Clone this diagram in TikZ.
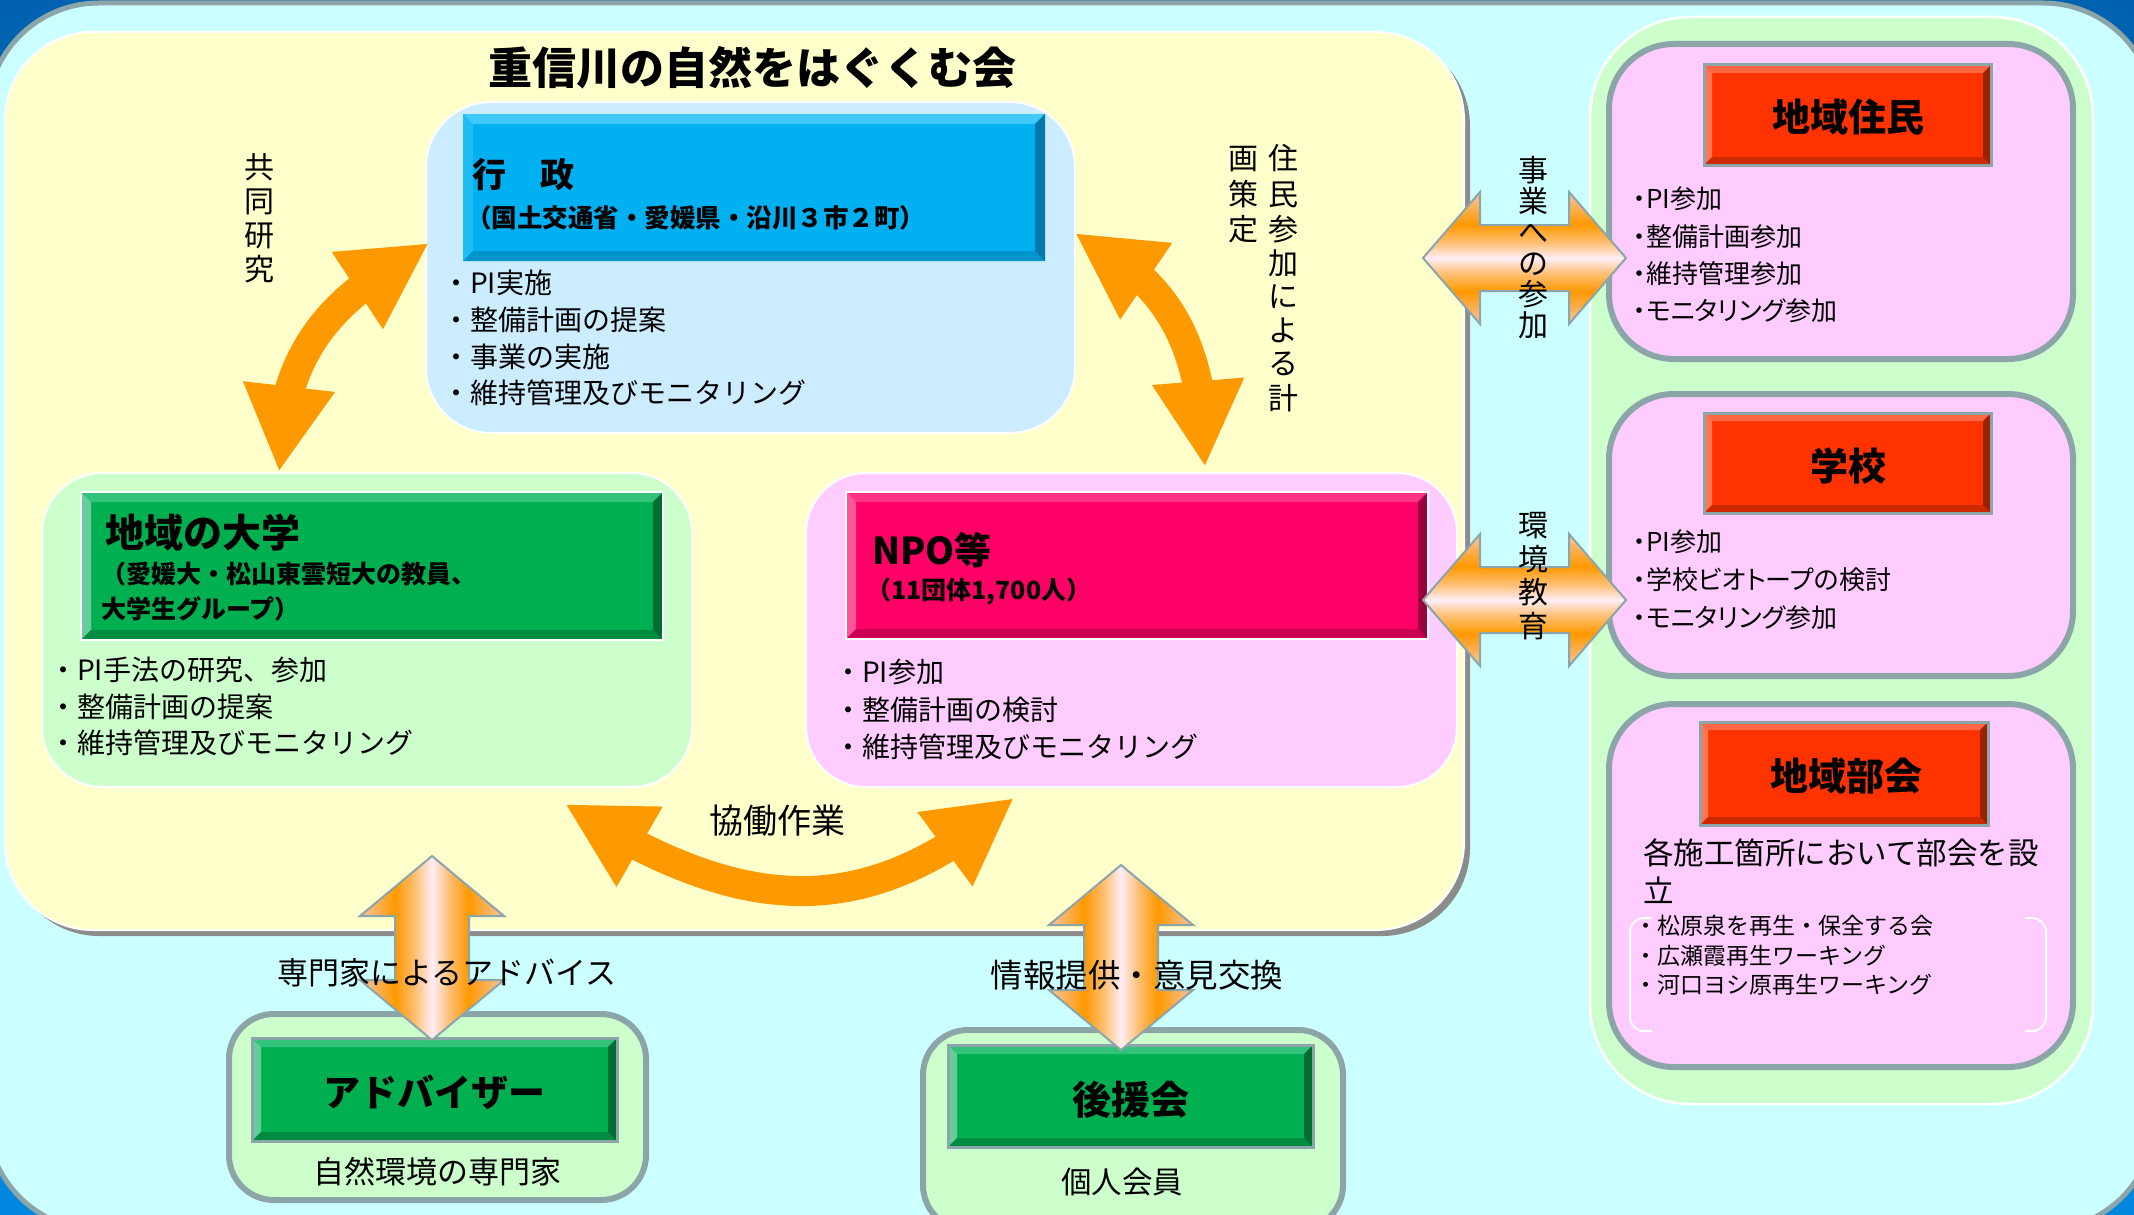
\documentclass[tikz,border=0pt]{standalone}
\usepackage{fontspec}
\setmainfont{Noto Sans CJK JP}
\newfontfamily\jpp{Noto Sans CJK JP}[RawFeature=+palt]
\usetikzlibrary{arrows.meta,bending}
\definecolor{bgblueA}{HTML}{0062B0}
\definecolor{bgblueB}{HTML}{0088E0}
\definecolor{cyanbg}{HTML}{CCFFFF}
\definecolor{framegray}{HTML}{8CA5A8}
\definecolor{yellowbg}{HTML}{FFFFCC}
\definecolor{shadowgray}{HTML}{8C8C8C}
\definecolor{lightblue}{HTML}{CCECFF}
\definecolor{lightgreen}{HTML}{CCFFCC}
\definecolor{lightpink}{HTML}{FFCCFF}
\definecolor{orangec}{HTML}{FF9900}
\definecolor{peachc}{HTML}{F6C6AA}
\definecolor{orangel}{HTML}{FFBE70}
\definecolor{centc}{HTML}{FFEEF6}
\definecolor{gvmain}{HTML}{00B0F0}\definecolor{gvtop}{HTML}{40C8F8}\definecolor{gvleft}{HTML}{20BCF4}\definecolor{gvbot}{HTML}{0094CC}\definecolor{gvright}{HTML}{0078AA}
\definecolor{grmain}{HTML}{00B050}\definecolor{grtop}{HTML}{33C27A}\definecolor{grleft}{HTML}{66CC99}\definecolor{grbot}{HTML}{008C40}\definecolor{grright}{HTML}{006E32}
\definecolor{mgmain}{HTML}{FF0066}\definecolor{mgtop}{HTML}{FF3385}\definecolor{mgleft}{HTML}{FF5599}\definecolor{mgbot}{HTML}{CC0052}\definecolor{mgright}{HTML}{99003D}
\definecolor{rdmain}{HTML}{FF3300}\definecolor{rdtop}{HTML}{FF6644}\definecolor{rdleft}{HTML}{FF7755}\definecolor{rdbot}{HTML}{CC2900}\definecolor{rdright}{HTML}{992200}
\pgfdeclareverticalshading{dblarr}{100bp}{color(0bp)=(peachc); color(25bp)=(peachc); color(37.5bp)=(orangec); color(44bp)=(orangel); color(50bp)=(centc); color(56bp)=(orangel); color(62.5bp)=(orangec); color(75bp)=(peachc); color(100bp)=(peachc)}
\newcommand\bevbox[7]{%
  \fill[#6main] (#1,#2) rectangle (#3,#4);
  \fill[#6top] (#1,#2) -- (#3,#2) -- ({#3-#5},{#2+#5}) -- ({#1+#5},{#2+#5}) -- cycle;
  \fill[#6left] (#1,#2) -- ({#1+#5},{#2+#5}) -- ({#1+#5},{#4-#5}) -- (#1,#4) -- cycle;
  \fill[#6bot] (#1,#4) -- ({#1+#5},{#4-#5}) -- ({#3-#5},{#4-#5}) -- (#3,#4) -- cycle;
  \fill[#6right] (#3,#2) -- (#3,#4) -- ({#3-#5},{#4-#5}) -- ({#3-#5},{#2+#5}) -- cycle;
  \draw[#7] (#1,#2) rectangle (#3,#4);
}
\newcommand\hdarr[2]{%
  \begin{scope}
    \clip ({#1-101.5},#2) -- ({#1-44.5},{#2-66}) -- ({#1-44.5},{#2-33}) -- ({#1+44.5},{#2-33}) -- ({#1+44.5},{#2-66}) -- ({#1+101.5},#2) -- ({#1+44.5},{#2+66}) -- ({#1+44.5},{#2+33}) -- ({#1-44.5},{#2+33}) -- ({#1-44.5},{#2+66}) -- cycle;
    \shade[shading=dblarr] ({#1-102},{#2-67}) rectangle ({#1+102},{#2+67});
  \end{scope}
  \draw[framegray,line width=2] ({#1-101.5},#2) -- ({#1-44.5},{#2-66}) -- ({#1-44.5},{#2-33}) -- ({#1+44.5},{#2-33}) -- ({#1+44.5},{#2-66}) -- ({#1+101.5},#2) -- ({#1+44.5},{#2+66}) -- ({#1+44.5},{#2+33}) -- ({#1-44.5},{#2+33}) -- ({#1-44.5},{#2+66}) -- cycle;
}
\newcommand\vdarr[3]{%
  \begin{scope}
    \clip (#1,#2) -- ({#1+72},{#2+60}) -- ({#1+37},{#2+60}) -- ({#1+37},{#3-60}) -- ({#1+72},{#3-60}) -- (#1,#3) -- ({#1-72},{#3-60}) -- ({#1-37},{#3-60}) -- ({#1-37},{#2+60}) -- ({#1-72},{#2+60}) -- cycle;
    \shade[shading=dblarr,shading angle=90] ({#1-73},#2) rectangle ({#1+73},#3);
  \end{scope}
  \draw[framegray,line width=2] (#1,#2) -- ({#1+72},{#2+60}) -- ({#1+37},{#2+60}) -- ({#1+37},{#3-60}) -- ({#1+72},{#3-60}) -- (#1,#3) -- ({#1-72},{#3-60}) -- ({#1-37},{#3-60}) -- ({#1-37},{#2+60}) -- ({#1-72},{#2+60}) -- cycle;
}
\tikzset{
  curvarr/.style={draw=orangec,line width=30pt,{Triangle[length=86pt,width=86pt]}-{Triangle[length=86pt,width=86pt]}},
  bul/.style={anchor=west,inner sep=0pt,font=\fontsize{#1}{#1}\selectfont},
  pbul/.style={anchor=west,inner sep=0pt,font=\jpp\fontsize{#1}{#1}\selectfont},
  hdr/.style={inner sep=0pt,font=\bfseries\fontsize{#1}{#1}\selectfont},
  plain/.style={inner sep=0pt,font=\fontsize{#1}{#1}\selectfont},
  vtext/.style 2 args={inner sep=0pt,align=center,font=\fontsize{#1}{#2}\selectfont},
  region/.style={draw=white,line width=2,fill=#1},
  graybox/.style={draw=framegray,line width=6,fill=#1}
}
\begin{document}
\begin{tikzpicture}[x=1pt,y=-1pt]
\useasboundingbox (0,0) rectangle (2134,1215);
\shade[top color=bgblueA,bottom color=bgblueB] (0,0) rectangle (2134,1215);
\draw[framegray,line width=5,fill=cyanbg,rounded corners=112] (-13,3) rectangle (2155,1230);
% main yellow area
\fill[shadowgray,rounded corners=88] (11,38) rectangle (1470,936);
\draw[region=yellowbg,rounded corners=88] (5,32) rectangle (1464,930);
\node[hdr=44] (title) at (752,68) {重信川の自然をはぐくむ会};
% gyosei
\draw[region=lightblue,rounded corners=65] (426,102) rectangle (1075,433);
\bevbox{463}{114}{1045}{261}{10}{gv}{draw=none}
\node[hdr=34,anchor=west] (gyosei) at (472,175) {行　政};
\node[hdr=25.5,anchor=west] (gyoseisub) at (466,218) {（国土交通省・愛媛県・沿川３市２町）};
\foreach \t [count=\i] in {・PI実施,・整備計画の提案,・事業の実施,・維持管理及びモニタリング}
  \node[bul=28] (gb\i) at (442,{283+36.7*(\i-1)}) {\t};
% university
\draw[region=lightgreen,rounded corners=60] (42,473) rectangle (692,787);
\bevbox{81}{492}{663}{640}{10}{gr}{draw=white,line width=1.5}
\node[hdr=39,anchor=west] (daigaku) at (105,533) {地域の大学};
\node[hdr=25,anchor=west,align=left,font=\bfseries\fontsize{25}{35}\selectfont] (daigakusub) at (101,591) {（愛媛大・松山東雲短大の教員、\\大学生グループ）};
\foreach \t [count=\i] in {・PI手法の研究、参加,・整備計画の提案,・維持管理及びモニタリング}
  \node[bul=28] (db\i) at (49,{670+36.5*(\i-1)}) {\t};
% NPO
\draw[region=lightpink,rounded corners=60] (806,473) rectangle (1457,787);
\bevbox{846}{492}{1428}{639}{10}{mg}{draw=white,line width=1.5}
\node[hdr=37,anchor=west] (npo) at (872,550) {NPO等};
\node[hdr=25,anchor=west] (nposub) at (866,592) {（11団体1,700人）};
\foreach \t [count=\i] in {・PI参加,・整備計画の検討,・維持管理及びモニタリング}
  \node[bul=28] (nb\i) at (834,{672+37.5*(\i-1)}) {\t};
% curved arrows
\coordinate (a1t) at (429,243); \coordinate (a1b) at (279,472);
\draw[curvarr] (a1b) .. controls (279,340) and (343,294) .. (a1t);
\node[vtext={30}{34}] (kyodo) at (259,218) {共\\同\\研\\究};
\coordinate (a2t) at (1075,233); \coordinate (a2b) at (1205,467);
\draw[curvarr] (a2t) .. controls (1164,279) and (1205,337) .. (a2b);
\node[inner sep=0pt,font=\fontsize{30}{33}\selectfont] (jumin) at (1263,282)
  {\setlength\tabcolsep{5pt}\begin{tabular}{cc}画&住\\策&民\\定&参\\&加\\&に\\&よ\\&る\\&計\end{tabular}};
\coordinate (a3l) at (565,804); \coordinate (a3r) at (1014,798);
\draw[curvarr] (a3l) .. controls (736,912) and (861,930) .. (a3r);
\node[plain=34] (kyodosagyo) at (777,821) {協働作業};
% right panel
\draw[region=lightgreen,line width=2.5,rounded corners=100] (1590,17) rectangle (2093,1104);
\draw[graybox=lightpink,rounded corners=65] (1609,44) rectangle (2073,359);
\bevbox{1704}{65}{1991}{165}{8}{rd}{draw=framegray,line width=3}
\node[hdr=38] (jumin2) at (1848,117) {地域住民};
\foreach \t [count=\i] in {・PI参加,・整備計画参加,・維持管理参加,・モニタリング参加}
  \node[pbul=26] (rb\i) at (1633,{199+37.3*(\i-1)}) {\t};
\draw[graybox=lightpink,rounded corners=65] (1609,394) rectangle (2073,676);
\bevbox{1704}{413}{1991}{513}{8}{rd}{draw=framegray,line width=3}
\node[hdr=38] (gakko) at (1848,466) {学校};
\foreach \t [count=\i] in {・PI参加,・学校ビオトープの検討,・モニタリング参加}
  \node[pbul=26] (sb\i) at (1633,{542+38*(\i-1)}) {\t};
\draw[graybox=lightpink,rounded corners=65] (1609,704) rectangle (2073,1067);
\bevbox{1700}{722}{1988}{825}{8}{rd}{draw=framegray,line width=3}
\node[hdr=38] (bukai) at (1846,776) {地域部会};
\node[inner sep=0pt,anchor=north west,align=left,font=\fontsize{30.5}{38}\selectfont] (bukaitxt) at (1643,838) {各施工箇所において部会を設\\立};
\foreach \t [count=\i] in {・松原泉を再生・保全する会,・広瀬霞再生ワーキング,・河口ヨシ原再生ワーキング}
  \node[bul=23] (kb\i) at (1634,{926+29.5*(\i-1)}) {\t};
\draw[white,line width=2,rounded corners=14] (1652,918) -- (1630,918) -- (1630,1031) -- (1652,1031);
\draw[white,line width=2,rounded corners=14] (2025,918) -- (2046,918) -- (2046,1031) -- (2025,1031);
% horizontal double arrows
\hdarr{1524.5}{258}
\hdarr{1524.5}{600}
\node[vtext={30}{31}] (jigyo) at (1533,248) {事\\業\\へ\\の\\参\\加};
\node[vtext={30}{33.5}] (kankyo) at (1533,576) {環\\境\\教\\育};
% bottom boxes
\draw[graybox=lightgreen,rounded corners=45] (229,1014) rectangle (646,1200);
\bevbox{252}{1038}{617}{1141}{9}{gr}{draw=framegray,line width=3}
\node[hdr=37] (adv) at (434.5,1092) {アドバイザー};
\node[plain=31] (advsub) at (437,1172) {自然環境の専門家};
\draw[graybox=lightgreen,rounded corners=45] (923,1030) rectangle (1343,1230);
\bevbox{948}{1045}{1313}{1147}{9}{gr}{draw=framegray,line width=3}
\node[hdr=39] (koen) at (1130.5,1100) {後援会};
\node[plain=30.5] (koensub) at (1122,1182) {個人会員};
% vertical double arrows
\vdarr{432}{856}{1040}
\vdarr{1121}{865}{1050}
\node[plain=31] (senmon) at (447,973) {専門家によるアドバイス};
\node[plain=32.5] (joho) at (1137,975) {情報提供・意見交換};
\end{tikzpicture}
\end{document}
